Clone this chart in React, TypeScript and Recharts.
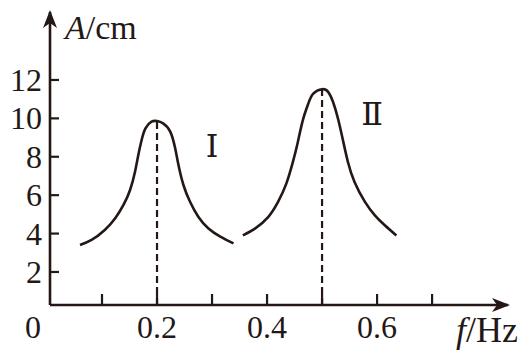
import React from 'react';
import { LineChart, Line, XAxis, YAxis, ReferenceLine, ReferenceDot, Label } from 'recharts';

const curveI = [
  { f: 0.06, A: 3.41 },
  { f: 0.081, A: 3.67 },
  { f: 0.105, A: 4.19 },
  { f: 0.124, A: 4.8 },
  { f: 0.139, A: 5.49 },
  { f: 0.151, A: 6.27 },
  { f: 0.16, A: 7.22 },
  { f: 0.166, A: 8.09 },
  { f: 0.172, A: 8.87 },
  { f: 0.179, A: 9.48 },
  { f: 0.19, A: 9.83 },
  { f: 0.2, A: 9.86 },
  { f: 0.211, A: 9.74 },
  { f: 0.224, A: 9.31 },
  { f: 0.233, A: 8.44 },
  { f: 0.239, A: 7.57 },
  { f: 0.248, A: 6.53 },
  { f: 0.26, A: 5.66 },
  { f: 0.275, A: 4.88 },
  { f: 0.293, A: 4.28 },
  { f: 0.315, A: 3.84 },
  { f: 0.339, A: 3.49 },
];

const curveII = [
  { f: 0.356, A: 3.91 },
  { f: 0.378, A: 4.26 },
  { f: 0.402, A: 4.86 },
  { f: 0.42, A: 5.65 },
  { f: 0.435, A: 6.6 },
  { f: 0.447, A: 7.73 },
  { f: 0.456, A: 8.77 },
  { f: 0.465, A: 9.9 },
  { f: 0.475, A: 10.77 },
  { f: 0.484, A: 11.29 },
  { f: 0.5, A: 11.52 },
  { f: 0.511, A: 11.38 },
  { f: 0.52, A: 10.85 },
  { f: 0.529, A: 9.98 },
  { f: 0.538, A: 8.86 },
  { f: 0.547, A: 7.73 },
  { f: 0.559, A: 6.69 },
  { f: 0.578, A: 5.65 },
  { f: 0.596, A: 4.95 },
  { f: 0.614, A: 4.43 },
  { f: 0.635, A: 3.9 },
];

const peaks = [
  { f: 0.2, A: 9.86 },
  { f: 0.5, A: 11.52 },
];

const curveLabels = [
  { f: 0.3, A: 8.6, text: 'Ⅰ' },
  { f: 0.591, A: 10.28, text: 'Ⅱ' },
];

const xTicks = [0.1, 0.2, 0.3, 0.4, 0.5, 0.6, 0.7];
const xLabeled = [0.2, 0.4, 0.6];
const yTicks = [2, 4, 6, 8, 10, 12];
const xDomain: [number, number] = [0.00545, 0.838];
const yDomain: [number, number] = [0.28, 15.54];

const INK = '#231815';
const FONT = '"Liberation Serif", "Times New Roman", serif';
const ROMAN_FONT = '"DejaVu Serif", "Liberation Serif", serif';

const XTick = (props: any) => {
  const { x, y, payload } = props;
  const v = payload.value;
  const show = xLabeled.some((t) => Math.abs(t - v) < 1e-6);
  return (
    <g>
      <line x1={x} y1={y} x2={x} y2={y - 11} stroke={INK} strokeWidth={2.2} />
      {show && (
        <text x={x} y={y + 33} textAnchor="middle" fontFamily={FONT} fontSize={32} fill={INK}>
          {v.toFixed(1)}
        </text>
      )}
    </g>
  );
};

const YTick = (props: any) => {
  const { x, y, payload } = props;
  return (
    <g>
      <line x1={x} y1={y} x2={x + 9} y2={y} stroke={INK} strokeWidth={2.2} />
      <text x={x - 8} y={y + 11} textAnchor="end" fontFamily={FONT} fontSize={32} fill={INK}>
        {payload.value}
      </text>
    </g>
  );
};

const XArrow = (props: any) => {
  const { cx, cy } = props;
  return (
    <path
      d={`M${cx + 2},${cy} L${cx - 16},${cy - 7} L${cx - 11},${cy} L${cx - 16},${cy + 7} Z`}
      fill={INK}
    />
  );
};

const YArrow = (props: any) => {
  const { cx, cy } = props;
  return (
    <path
      d={`M${cx},${cy - 2} L${cx - 7},${cy + 16} L${cx},${cy + 11} L${cx + 7},${cy + 16} Z`}
      fill={INK}
    />
  );
};

const XAxisTitle = (props: any) => {
  const { viewBox } = props;
  const { x, y, width } = viewBox;
  return (
    <g>
      <text x={x - 17} y={y + 33} textAnchor="middle" fontFamily={FONT} fontSize={32} fill={INK}>
        0
      </text>
      <text x={x + width + 10} y={y + 37} textAnchor="end" fontFamily={FONT} fontSize={36} fill={INK}>
        <tspan fontStyle="italic">f</tspan>
        <tspan>/Hz</tspan>
      </text>
    </g>
  );
};

const YAxisTitle = (props: any) => {
  const { viewBox } = props;
  const { x, y, width } = viewBox;
  return (
    <text x={x + width + 15} y={y + 27} textAnchor="start" fontFamily={FONT} fontSize={34} fill={INK}>
      <tspan fontStyle="italic">A</tspan>
      <tspan>/cm</tspan>
    </text>
  );
};

const CurveText = (text: string) => (props: any) => {
  const { cx, cy } = props;
  return (
    <text x={cx} y={cy + 12} textAnchor="middle" fontFamily={ROMAN_FONT} fontSize={32} fill={INK}>
      {text}
    </text>
  );
};

export default function App() {
  return (
    <div style={{ position: 'absolute', left: 0, top: 0, background: '#fff' }}>
      <LineChart width={525} height={356} margin={{ top: 12, right: 17, left: 0, bottom: 0 }}>
        <XAxis
          type="number"
          dataKey="f"
          domain={xDomain}
          ticks={xTicks}
          allowDataOverflow
          height={51}
          tickSize={0}
          tickMargin={0}
          tickLine={false}
          axisLine={{ stroke: INK, strokeWidth: 2.6 }}
          tick={<XTick />}
          interval={0}
        >
          <Label content={<XAxisTitle />} />
        </XAxis>
        <YAxis
          type="number"
          dataKey="A"
          domain={yDomain}
          ticks={yTicks}
          allowDataOverflow
          width={50}
          tickSize={0}
          tickMargin={0}
          tickLine={false}
          axisLine={{ stroke: INK, strokeWidth: 2.6 }}
          tick={<YTick />}
          interval={0}
        >
          <Label content={<YAxisTitle />} />
        </YAxis>
        {peaks.map((p) => (
          <ReferenceLine
            key={p.f}
            segment={[
              { x: p.f, y: yDomain[0] },
              { x: p.f, y: p.A },
            ]}
            stroke={INK}
            strokeWidth={2.2}
            strokeDasharray="7 4"
          />
        ))}
        <Line
          data={curveI}
          dataKey="A"
          type="natural"
          stroke={INK}
          strokeWidth={2.6}
          dot={false}
          isAnimationActive={false}
        />
        <Line
          data={curveII}
          dataKey="A"
          type="natural"
          stroke={INK}
          strokeWidth={2.6}
          dot={false}
          isAnimationActive={false}
        />
        {curveLabels.map((c) => (
          <ReferenceDot key={c.text} x={c.f} y={c.A} r={0} shape={CurveText(c.text)} ifOverflow="visible" />
        ))}
        <ReferenceDot x={xDomain[1]} y={yDomain[0]} r={0} shape={XArrow} ifOverflow="visible" />
        <ReferenceDot x={xDomain[0]} y={yDomain[1]} r={0} shape={YArrow} ifOverflow="visible" />
      </LineChart>
    </div>
  );
}
